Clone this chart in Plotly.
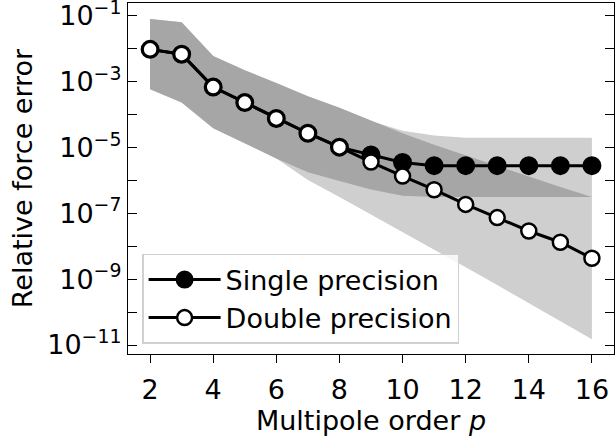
import plotly.graph_objects as go

# Multipole order
orders = list(range(2, 17))

# Median relative force error
single_err = [9.5e-3, 6.8e-3, 6.8e-4, 2.3e-4, 7.6e-5, 2.7e-5, 1.02e-5,
              5.9e-6, 3.5e-6, 2.8e-6, 2.8e-6, 2.8e-6, 2.8e-6, 2.8e-6, 2.8e-6]
double_err = [9.5e-3, 6.8e-3, 6.8e-4, 2.3e-4, 7.6e-5, 2.7e-5, 1.02e-5,
              3.6e-6, 1.35e-6, 5.2e-7, 1.86e-7, 7.4e-8, 2.9e-8, 1.32e-8, 4.3e-9]

# Error spread (shaded bands)
single_hi = [7.9e-2, 6.3e-2, 6.0e-3, 2.2e-3, 9.0e-4, 3.6e-4, 1.6e-4,
             6.6e-5, 2.7e-5, 1.2e-5, 5.7e-6, 2.7e-6, 1.3e-6, 6.3e-7, 3.1e-7]
single_lo = [5.8e-4, 2.3e-4, 3.8e-5, 1.36e-5, 4.6e-6, 1.75e-6, 9.5e-7,
             5.3e-7, 3.4e-7, 3.1e-7, 3.1e-7, 3.1e-7, 3.1e-7, 3.1e-7, 3.1e-7]
double_hi = [7.9e-2, 6.3e-2, 6.0e-3, 2.2e-3, 9.0e-4, 3.6e-4, 1.6e-4,
             6.3e-5, 3.2e-5, 2.3e-5, 1.97e-5, 1.97e-5, 1.97e-5, 1.97e-5, 1.97e-5]
double_lo = [5.8e-4, 2.3e-4, 3.8e-5, 1.36e-5, 4.6e-6, 1.03e-6, 3.1e-7,
             9.3e-8, 2.7e-8, 7.9e-9, 2.3e-9, 6.6e-10, 1.9e-10, 5.4e-11, 1.5e-11]

# Axis ticks
xtick_vals = [2, 4, 6, 8, 10, 12, 14, 16]
ytick_vals = [10.0 ** e for e in range(-11, 0)]
ytick_text = ["10<sup>−11</sup>", "", "10<sup>−9</sup>", "", "10<sup>−7</sup>", "",
              "10<sup>−5</sup>", "", "10<sup>−3</sup>", "", "10<sup>−1</sup>"]

FONT = "DejaVu Sans"
FS = 27

fig = go.Figure()

fig.add_trace(go.Scatter(
    x=orders + orders[::-1], y=double_hi + double_lo[::-1],
    fill="toself", fillcolor="#cfcfcf", line=dict(width=0),
    mode="lines", showlegend=False, hoverinfo="skip"))
fig.add_trace(go.Scatter(
    x=orders + orders[::-1], y=single_hi + single_lo[::-1],
    fill="toself", fillcolor="#a6a6a6", line=dict(width=0),
    mode="lines", showlegend=False, hoverinfo="skip"))

fig.add_trace(go.Scatter(
    x=orders, y=single_err, mode="lines+markers", name="Single precision",
    line=dict(color="black", width=3),
    marker=dict(symbol="circle", size=17, color="black",
                line=dict(color="black", width=2))))
fig.add_trace(go.Scatter(
    x=orders, y=double_err, mode="lines+markers", name="Double precision",
    line=dict(color="black", width=3),
    marker=dict(symbol="circle", size=15, color="white",
                line=dict(color="black", width=2.5))))

fig.update_layout(
    width=616, height=436,
    margin=dict(l=128, r=2, t=3, b=82),
    paper_bgcolor="white", plot_bgcolor="white",
    font=dict(family=FONT, size=FS, color="black"),
    showlegend=True,
    legend=dict(
        x=0.029, y=0.285, xanchor="left", yanchor="top",
        bgcolor="rgba(255,255,255,0.8)", bordercolor="#d0d0d0", borderwidth=1.5,
        font=dict(family=FONT, size=FS, color="black"),
        itemwidth=72),
)

fig.update_xaxes(
    range=[1.3, 16.7], tickvals=xtick_vals, automargin=False,
    ticks="outside", ticklen=8, tickwidth=1.3, tickcolor="black",
    showline=True, linecolor="black", linewidth=1.3, mirror=True,
    showgrid=False, zeroline=False, ticklabeloverflow="allow",
    ticklabelstandoff=3,
    tickfont=dict(family=FONT, size=FS),
    title=dict(text="Multipole order <i>p</i>", font=dict(family=FONT, size=FS), standoff=9),
)
fig.update_yaxes(
    type="log", range=[-11.273, -0.614], automargin=False,
    tickvals=ytick_vals, ticktext=ytick_text,
    ticks="inside", ticklen=9, tickwidth=1.3, tickcolor="black",
    showline=True, linecolor="black", linewidth=1.3, mirror="ticks",
    showgrid=False, zeroline=False, ticklabeloverflow="allow",
    tickfont=dict(family=FONT, size=FS),
    title=dict(text="Relative force error", font=dict(family=FONT, size=FS), standoff=6),
)

fig.write_html("out.html", config={"displayModeBar": False},
               post_script="document.body.style.margin='0';")
